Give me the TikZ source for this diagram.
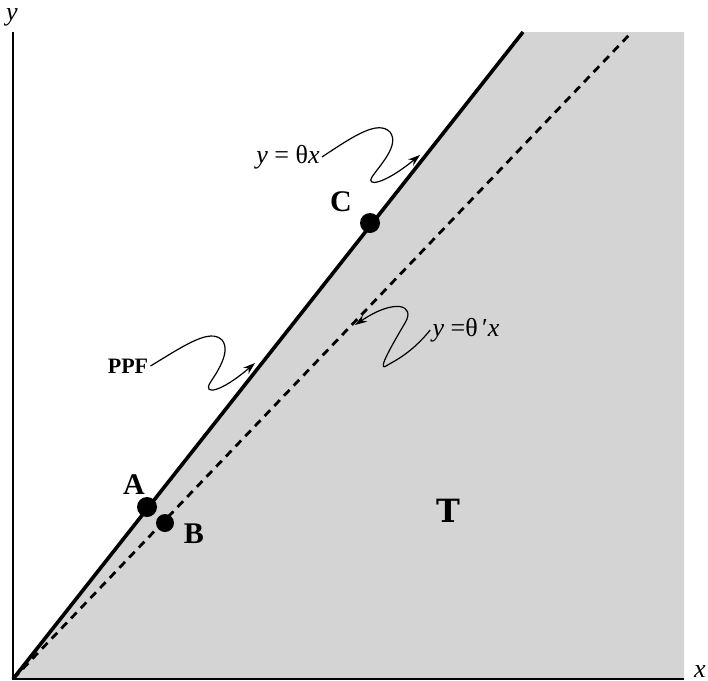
\documentclass[tikz,border=0pt]{standalone}
\usepackage{fontspec}
\setmainfont{Liberation Serif}
\newfontfamily\slabfont{DejaVu Serif}
\usetikzlibrary{arrows.meta}
\definecolor{regiongray}{gray}{0.83}
\tikzset{
  dot/.style={circle,fill=black,inner sep=0pt,minimum size=10pt},
  ptlabel/.style={font=\bfseries\fontsize{15}{15}\selectfont},
  eqlabel/.style={font=\fontsize{13}{13}\selectfont,inner sep=1pt},
  axlabel/.style={font=\itshape\fontsize{13}{13}\selectfont,inner sep=0pt},
  curly/.style={line width=0.6pt,-{Stealth[length=6pt,width=4pt]}}
}
\begin{document}
\begin{tikzpicture}[x=0.5pt,y=-0.5pt]
\useasboundingbox (0,0) rectangle (708,681);
\coordinate (o) at (13,679);
\coordinate (ppfend) at (523,32);
\coordinate (dashend) at (631,33);
\coordinate (tr) at (684,32);
\coordinate (br) at (684,679);
\coordinate (ytop) at (13,32);
\coordinate (tip1) at (420,155);
\coordinate (tip2) at (355,325);
\coordinate (tip3) at (255,363);
% feasible set and frontier
\fill[regiongray] (o) -- (ppfend) -- (tr) -- (br) -- cycle;
\draw[line width=0.8pt] (ytop) -- (o) -- (br);
\draw[line width=1.8pt] (o) -- (ppfend);
\draw[line width=1.4pt,dash pattern=on 4pt off 3pt] (o) -- (dashend);
% axis labels
\node[axlabel] (ylab) at (12,17) {y};
\node[axlabel] (xlab) at (700,672) {x};
% points
\node[dot] (a) at (147,507) {};
\node[dot,minimum size=9pt] (b) at (165,523) {};
\node[dot] (c) at (370,223) {};
\node[ptlabel] (alab) at (134,485) {A};
\node[ptlabel] (blab) at (194,534) {B};
\node[ptlabel] (clab) at (341,202) {C};
\node[font=\bfseries\fontsize{11}{11}\selectfont,inner sep=1pt] (ppf) at (128,366) {PPF};
\node[font=\slabfont\bfseries\fontsize{16}{16}\selectfont] (tset) at (448,511) {T};
% line labels
\node[eqlabel] (eq1) at (288,157) {\textit{y} = θ\textit{x}};
\node[eqlabel] (eq2) at (466,330) {\textit{y} =θ\,′\textit{x}};
\draw[curly] (eq1.east) .. controls (355,135) and (378,120) .. (390,132)
  .. controls (400,145) and (380,165) .. (372,177)
  .. controls (366,186) and (382,186) .. (tip1);
\draw[curly] (ppf.east) .. controls (185,345) and (210,328) .. (222,340)
  .. controls (232,352) and (215,375) .. (210,383)
  .. controls (203,395) and (220,393) .. (tip3);
\draw[curly] (eq2.west) .. controls (410,355) and (392,362) .. (386,366)
  .. controls (376,372) and (395,340) .. (405,323)
  .. controls (416,305) and (395,298) .. (tip2);
\end{tikzpicture}
\end{document}
